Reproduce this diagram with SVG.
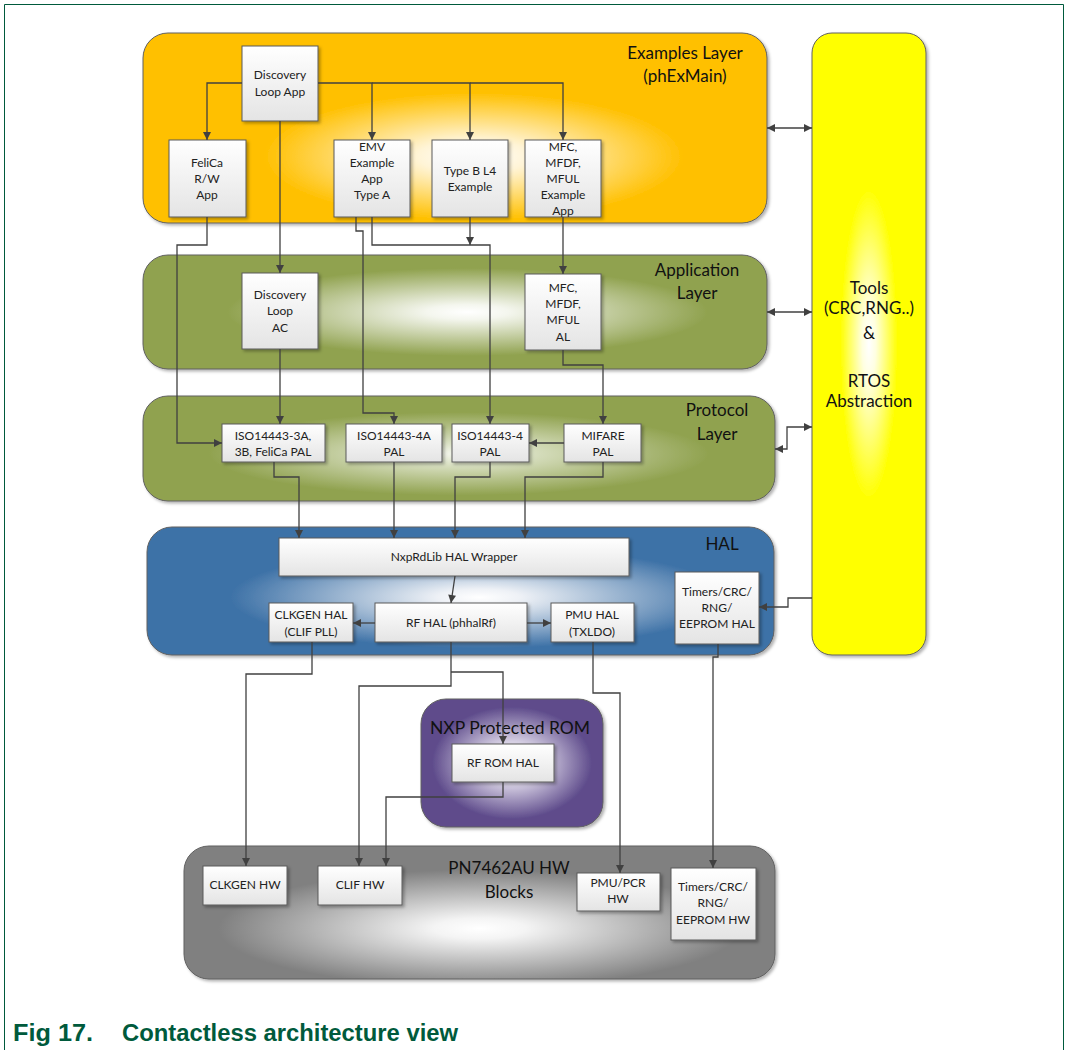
<svg xmlns="http://www.w3.org/2000/svg" width="1068" height="1050" viewBox="0 0 1068 1050">
<defs>
<style>
.box{fill:url(#gBox);stroke:#5a5a5a;stroke-width:1;filter:url(#sh)}
.lay{stroke:#606060;stroke-width:1;filter:url(#sh)}
.t{font-family:Lato,"Open Sans",sans-serif;font-size:12px;fill:#222;text-anchor:middle}
.tt{font-family:Lato,"Open Sans",sans-serif;font-size:17px;fill:#111;text-anchor:middle}
.c{fill:none;stroke:#404040;stroke-width:1.3}
.cap{font-family:"Liberation Sans",Arial,sans-serif;font-weight:bold;font-size:23px;fill:#005a3c}
</style>
<filter id="sh" x="-10%" y="-10%" width="125%" height="125%">
<feDropShadow dx="2" dy="2" stdDeviation="1.5" flood-color="#000" flood-opacity="0.3"/>
</filter>
<linearGradient id="gBox" x1="0" y1="0" x2="0" y2="1">
<stop offset="0" stop-color="#ffffff"/><stop offset="1" stop-color="#e4e4e4"/>
</linearGradient>
<radialGradient id="gEx" cx="0.53" cy="0.65" r="0.45">
<stop offset="0" stop-color="#ffffff"/><stop offset="0.2" stop-color="#fff4d6"/><stop offset="0.75" stop-color="#ffc000"/><stop offset="1" stop-color="#ffc000"/>
</radialGradient>
<radialGradient id="gApp" cx="0.52" cy="0.5" r="0.55">
<stop offset="0" stop-color="#ffffff"/><stop offset="0.12" stop-color="#f4f6ee"/><stop offset="0.7" stop-color="#90a24f"/><stop offset="1" stop-color="#90a24f"/>
</radialGradient>
<radialGradient id="gPro" cx="0.5" cy="0.55" r="0.55">
<stop offset="0" stop-color="#f3f5ec"/><stop offset="0.1" stop-color="#e6ebd7"/><stop offset="0.72" stop-color="#90a24f"/><stop offset="1" stop-color="#90a24f"/>
</radialGradient>
<radialGradient id="gHal" cx="0.53" cy="0.55" r="0.55">
<stop offset="0" stop-color="#ffffff"/><stop offset="0.12" stop-color="#eef1f6"/><stop offset="0.72" stop-color="#3e72a7"/><stop offset="1" stop-color="#3e72a7"/>
</radialGradient>
<radialGradient id="gRom" cx="0.5" cy="0.5" r="0.55">
<stop offset="0" stop-color="#ffffff"/><stop offset="0.2" stop-color="#efebf6"/><stop offset="0.8" stop-color="#5e4b8b"/><stop offset="1" stop-color="#5e4b8b"/>
</radialGradient>
<radialGradient id="gHw" cx="0.5" cy="0.62" r="0.52">
<stop offset="0" stop-color="#ffffff"/><stop offset="0.15" stop-color="#f4f4f4"/><stop offset="0.85" stop-color="#808080"/><stop offset="1" stop-color="#808080"/>
</radialGradient>
<radialGradient id="gTools" cx="0.5" cy="0.5" r="0.5">
<stop offset="0" stop-color="#ffffff"/><stop offset="0.12" stop-color="#ffffe0"/><stop offset="0.5" stop-color="#ffff00"/><stop offset="1" stop-color="#ffff00"/>
</radialGradient>
<marker id="ah" viewBox="0 0 10 10" refX="10" refY="5" markerWidth="9" markerHeight="8" orient="auto-start-reverse" markerUnits="userSpaceOnUse">
<path d="M0,0 L10,5 L0,10 z" fill="#404040"/>
</marker>
</defs>
<rect width="1068" height="1050" fill="#ffffff"/>
<path d="M4.5,1050 V4.5 H1063.5 V1050" fill="none" stroke="#005a3c" stroke-width="1"/>

<!-- layers -->
<g id="examples-layer">
<rect class="lay" x="143" y="33" width="624" height="190" rx="25" fill="url(#gEx)"/>
<text class="tt" x="685" y="59">Examples Layer</text>
<text class="tt" x="685" y="82">(phExMain)</text>
</g>
<g id="application-layer">
<rect class="lay" x="143" y="255" width="624" height="114" rx="25" fill="url(#gApp)"/>
<text class="tt" x="697" y="276">Application</text>
<text class="tt" x="697" y="299">Layer</text>
</g>
<g id="protocol-layer">
<rect class="lay" x="143" y="396" width="632" height="105" rx="25" fill="url(#gPro)"/>
<text class="tt" x="717" y="416">Protocol</text>
<text class="tt" x="717" y="440">Layer</text>
</g>
<g id="hal-layer">
<rect class="lay" x="147" y="527" width="627" height="128" rx="25" fill="url(#gHal)"/>
<text class="tt" x="722" y="550">HAL</text>
</g>
<g id="rom-layer">
<rect class="lay" x="421" y="699" width="182" height="128" rx="25" fill="url(#gRom)"/>
<text class="tt" x="510" y="734" style="font-size:17.5px">NXP Protected ROM</text>
</g>
<g id="hw-layer">
<rect class="lay" x="184" y="846" width="591" height="133" rx="25" fill="url(#gHw)"/>
<text class="tt" x="509" y="874">PN7462AU HW</text>
<text class="tt" x="509" y="898">Blocks</text>
</g>
<g id="tools">
<rect class="lay" x="812" y="33" width="114" height="622" rx="20" fill="url(#gTools)"/>
<text class="tt" x="869" y="294">Tools</text>
<text class="tt" x="869" y="314">(CRC,RNG..)</text>
<text class="tt" x="869" y="339">&amp;</text>
<text class="tt" x="869" y="387">RTOS</text>
<text class="tt" x="869" y="407">Abstraction</text>
</g>

<!-- nodes -->
<g id="discovery-loop-app"><rect class="box" x="242" y="46" width="76" height="75"/>
<text class="t" x="280" y="79">Discovery</text><text class="t" x="280" y="96">Loop App</text></g>
<g id="felica-app"><rect class="box" x="169" y="140" width="77" height="77"/>
<text class="t" x="207" y="167">FeliCa</text><text class="t" x="207" y="183">R/W</text><text class="t" x="207" y="199">App</text></g>
<g id="emv-app"><rect class="box" x="334" y="140" width="76" height="77"/>
<text class="t" x="372" y="151">EMV</text><text class="t" x="372" y="167">Example</text><text class="t" x="372" y="183">App</text><text class="t" x="372" y="199">Type A</text></g>
<g id="typeb-example"><rect class="box" x="432" y="140" width="76" height="77"/>
<text class="t" x="470" y="175">Type B L4</text><text class="t" x="470" y="191">Example</text></g>
<g id="mfc-example"><rect class="box" x="525" y="140" width="76" height="77"/>
<text class="t" x="563" y="151">MFC,</text><text class="t" x="563" y="167">MFDF,</text><text class="t" x="563" y="183">MFUL</text><text class="t" x="563" y="199">Example</text><text class="t" x="563" y="215">App</text></g>

<g id="discovery-loop-ac"><rect class="box" x="242" y="273" width="76" height="76"/>
<text class="t" x="280" y="299">Discovery</text><text class="t" x="280" y="315">Loop</text><text class="t" x="280" y="332">AC</text></g>
<g id="mfc-al"><rect class="box" x="525" y="274" width="76" height="76"/>
<text class="t" x="563" y="292">MFC,</text><text class="t" x="563" y="308">MFDF,</text><text class="t" x="563" y="324">MFUL</text><text class="t" x="563" y="341">AL</text></g>

<g id="iso3a-pal"><rect class="box" x="222" y="424" width="103" height="38"/>
<text class="t" x="273" y="440">ISO14443-3A,</text><text class="t" x="273" y="456">3B, FeliCa PAL</text></g>
<g id="iso4a-pal"><rect class="box" x="346" y="424" width="96" height="38"/>
<text class="t" x="394" y="440">ISO14443-4A</text><text class="t" x="394" y="456">PAL</text></g>
<g id="iso4-pal"><rect class="box" x="452" y="424" width="77" height="38"/>
<text class="t" x="490" y="440">ISO14443-4</text><text class="t" x="490" y="456">PAL</text></g>
<g id="mifare-pal"><rect class="box" x="564" y="424" width="77" height="38"/>
<text class="t" x="603" y="440">MIFARE</text><text class="t" x="603" y="456">PAL</text></g>

<g id="hal-wrapper"><rect class="box" x="279" y="538" width="350" height="38"/>
<text class="t" x="454" y="561">NxpRdLib HAL Wrapper</text></g>
<g id="clkgen-hal"><rect class="box" x="269" y="603" width="84" height="39"/>
<text class="t" x="311" y="619">CLKGEN HAL</text><text class="t" x="311" y="636">(CLIF PLL)</text></g>
<g id="rf-hal"><rect class="box" x="375" y="603" width="152" height="39"/>
<text class="t" x="451" y="627">RF HAL (phhalRf)</text></g>
<g id="pmu-hal"><rect class="box" x="551" y="603" width="83" height="39"/>
<text class="t" x="592" y="619">PMU HAL</text><text class="t" x="592" y="636">(TXLDO)</text></g>
<g id="timers-hal"><rect class="box" x="675" y="572" width="84" height="72"/>
<text class="t" x="717" y="596">Timers/CRC/</text><text class="t" x="717" y="612">RNG/</text><text class="t" x="717" y="628">EEPROM HAL</text></g>

<g id="rf-rom-hal"><rect class="box" x="452" y="744" width="102" height="38"/>
<text class="t" x="503" y="767">RF ROM HAL</text></g>

<g id="clkgen-hw"><rect class="box" x="203" y="866" width="84" height="39"/>
<text class="t" x="245" y="889">CLKGEN HW</text></g>
<g id="clif-hw"><rect class="box" x="318" y="866" width="84" height="39"/>
<text class="t" x="360" y="889">CLIF HW</text></g>
<g id="pmu-hw"><rect class="box" x="577" y="873" width="83" height="38"/>
<text class="t" x="618" y="887">PMU/PCR</text><text class="t" x="618" y="903">HW</text></g>
<g id="timers-hw"><rect class="box" x="671" y="868" width="85" height="72"/>
<text class="t" x="713" y="891">Timers/CRC/</text><text class="t" x="713" y="907">RNG/</text><text class="t" x="713" y="924">EEPROM HW</text></g>

<!-- connectors -->
<g id="connectors">
<path class="c" d="M242,83 H207 V140" marker-end="url(#ah)"/>
<path class="c" d="M318,83 H372 V140" marker-end="url(#ah)"/>
<path class="c" d="M372,83 H470 V140" marker-end="url(#ah)"/>
<path class="c" d="M470,83 H563 V140" marker-end="url(#ah)"/>
<path class="c" d="M207,217 V245 H177 V443 H222" marker-end="url(#ah)"/>
<path class="c" d="M280,121 V273" marker-end="url(#ah)"/>
<path class="c" d="M280,349 V424" marker-end="url(#ah)"/>
<path class="c" d="M356,217 V231 H363 V413 H394 V424" marker-end="url(#ah)"/>
<path class="c" d="M372,217 V245 H490 V424" marker-end="url(#ah)"/>
<path class="c" d="M470,217 V245" marker-end="url(#ah)"/>
<path class="c" d="M563,217 V274" marker-end="url(#ah)"/>
<path class="c" d="M563,350 V365 H603 V424" marker-end="url(#ah)"/>
<path class="c" d="M564,443 H529" marker-end="url(#ah)"/>
<path class="c" d="M274,462 V477 H299 V538" marker-end="url(#ah)"/>
<path class="c" d="M394,462 V538" marker-end="url(#ah)"/>
<path class="c" d="M490,462 V477 H455 V538" marker-end="url(#ah)"/>
<path class="c" d="M603,462 V477 H525 V538" marker-end="url(#ah)"/>
<path class="c" d="M455,576 L451,603" marker-end="url(#ah)"/>
<path class="c" d="M375,623 H353" marker-end="url(#ah)"/>
<path class="c" d="M527,623 H551" marker-end="url(#ah)"/>
<path class="c" d="M312,642 V674 H246 V866" marker-end="url(#ah)"/>
<path class="c" d="M451,642 V686 H359 V866" marker-end="url(#ah)"/>
<path class="c" d="M451,672 H503 V744" marker-end="url(#ah)"/>
<path class="c" d="M503,782 V797 H386 V866" marker-end="url(#ah)"/>
<path class="c" d="M593,642 V693 H620 V873" marker-end="url(#ah)"/>
<path class="c" d="M718,644 V657 H713 V868" marker-end="url(#ah)"/>
<path class="c" d="M767,128 H812" marker-start="url(#ah)" marker-end="url(#ah)"/>
<path class="c" d="M767,312 H812" marker-start="url(#ah)" marker-end="url(#ah)"/>
<path class="c" d="M775,449 H787 V427 H812" marker-start="url(#ah)" marker-end="url(#ah)"/>
<path class="c" d="M812,598 H788 V607 H759" marker-end="url(#ah)"/>
</g>

<g id="caption">
<text class="cap" x="13" y="1041" textLength="80" lengthAdjust="spacingAndGlyphs">Fig 17.</text>
<text class="cap" x="122" y="1041" textLength="336" lengthAdjust="spacingAndGlyphs">Contactless architecture view</text>
</g>
</svg>
